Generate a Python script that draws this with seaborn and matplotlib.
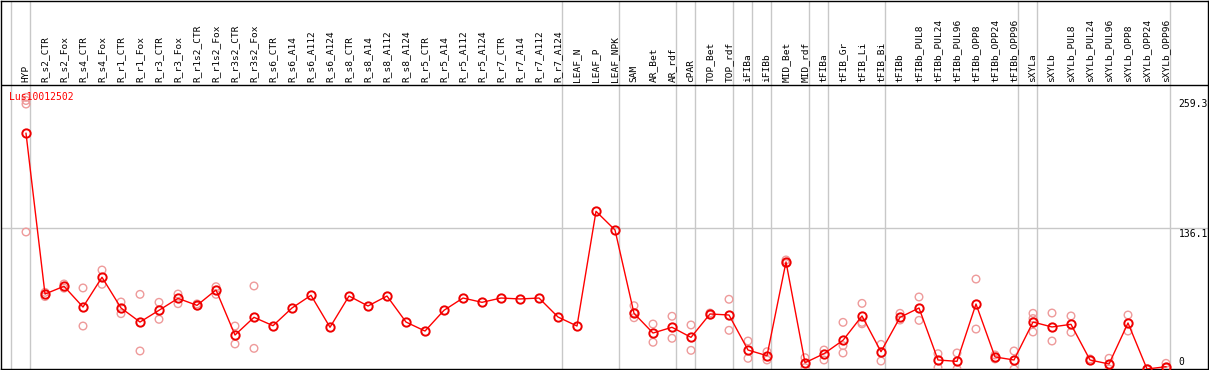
import numpy as np
import pandas as pd
import matplotlib
matplotlib.use("Agg")
import matplotlib.pyplot as plt
import seaborn as sns

# ---------------- data ----------------
categories = [
    "HYP", "R_s2_CTR", "R_s2_Fox", "R_s4_CTR", "R_s4_Fox", "R_r1_CTR", "R_r1_Fox",
    "R_r3_CTR", "R_r3_Fox", "R_r1s2_CTR", "R_r1s2_Fox", "R_r3s2_CTR", "R_r3s2_Fox",
    "R_s6_CTR", "R_s6_A14", "R_s6_A112", "R_s6_A124", "R_s8_CTR", "R_s8_A14",
    "R_s8_A112", "R_s8_A124", "R_r5_CTR", "R_r5_A14", "R_r5_A112", "R_r5_A124",
    "R_r7_CTR", "R_r7_A14", "R_r7_A112", "R_r7_A124", "LEAF_N", "LEAF_P", "LEAF_NPK",
    "SAM", "AR_Bet", "AR_rdf", "cPAR", "TOP_Bet", "TOP_rdf", "iFIBa", "iFIBb",
    "MID_Bet", "MID_rdf", "tFIBa", "tFIB_Gr", "tFIB_Li", "tFIB_Bi", "tFIBb",
    "tFIBb_PUL8", "tFIBb_PUL24", "tFIBb_PUL96", "tFIBb_OPP8", "tFIBb_OPP24",
    "tFIBb_OPP96", "sXYLa", "sXYLb", "sXYLb_PUL8", "sXYLb_PUL24", "sXYLb_PUL96",
    "sXYLb_OPP8", "sXYLb_OPP24", "sXYLb_OPP96",
]

mean_values = [
    226.7, 73.4, 80.8, 61.0, 89.4, 60.1, 46.7, 57.9, 69.3, 62.6, 77.3, 34.3, 51.2,
    43.2, 60.1, 72.2, 41.7, 71.5, 62.0, 71.5, 46.7, 38.1, 57.9, 69.6, 65.5,
    69.6, 68.7, 69.6, 51.5, 42.9, 152.3, 134.5,
    55.0, 36.2, 41.7, 32.1, 54.4, 53.4, 20.0, 14.6, 104.0, 7.9,
    16.5, 29.3, 52.5, 18.4, 51.2, 60.1, 10.5, 9.2, 63.9, 13.4, 10.5,
    46.7, 42.0, 44.5, 10.5, 6.7, 45.8, 1.9, 4.1,
]

replicate_values = [
    [261.0, 258.0, 254.6, 132.6], [75.0, 71.0], [83.0, 79.0], [79.2, 42.9],
    [96.3, 82.7], [65.8, 54.7], [73.1, 19.1], [65.5, 49.3], [73.4, 64.2],
    [64.0, 62.0], [80.4, 73.1], [42.9, 25.8], [81.1, 21.6],
    [], [], [], [], [], [], [], [], [], [], [], [], [], [], [], [], [], [], [],
    [62.3, 50.8, 55.5], [44.8, 27.4], [52.2, 31.2], [43.9, 19.7], [55.3, 53.4],
    [68.4, 38.8], [28.6, 12.1], [18.4, 10.5], [105.9, 102.5], [12.7, 3.2],
    [20.0, 10.5], [46.4, 24.2, 17.2], [64.5, 46.4, 45.0], [25.4, 9.5],
    [55.0, 48.6], [70.6, 48.3], [16.5, 3.2], [17.2, 1.9], [87.7, 40.0],
    [15.3, 11.5], [19.1, 1.9],
    [55.0, 37.2, 50.0], [55.3, 28.6], [52.5, 36.9], [11.5, 10.0], [12.1, 1.9],
    [53.4, 38.1], [2.0, 1.5], [7.3, 3.0],
]

group_ends = [-1, 0, 28, 31, 34, 35, 37, 38, 39, 41, 42, 45, 52, 53, 60]
ytick_values = [259.3, 136.1, 0]
ytick_labels = ["259.3", "136.1", "0"]
gene_label = "Lus10012502"

# ---------------- build frames ----------------
pos = np.arange(len(categories))
df_mean = pd.DataFrame({"pos": pos, "value": mean_values, "cat": categories})
rows = []
for i, reps in enumerate(replicate_values):
    for r in reps:
        rows.append({"pos": i, "value": r})
df_rep = pd.DataFrame(rows)

# ---------------- figure ----------------
W, H = 1209, 370
fig = plt.figure(figsize=(W / 100, H / 100), dpi=100)
ax = fig.add_axes([1 / W, 1 / H, 1207 / W, 368.5 / H])

# pixel -> data mapping (linear)
px0, pscale = 371.0, 1.0485          # pixel row of value 0, pixels per unit
ax.set_ylim((px0 - 369.0) / pscale, (px0 - 0.5) / pscale)
ax.set_xlim((1 - 26) / 19, (1208 - 26) / 19)

mono = "DejaVu Sans Mono"
grey = "#c8c8c8"

# separators and reference line
for g in group_ends:
    ax.axvline(g + 0.23, color=grey, lw=1, zorder=1)
ax.axhline(136.1, color=grey, lw=1, zorder=1)

# header divider
header_v = (px0 - 85) / pscale
ax.axhline(header_v, color="black", lw=1, zorder=3)

# replicate points
sns.scatterplot(data=df_rep, x="pos", y="value", ax=ax, marker="o",
                facecolors="none", edgecolor="#ee9a9a", linewidth=1.0,
                s=30, zorder=4, legend=False)

# mean line
sns.lineplot(data=df_mean, x="pos", y="value", ax=ax, color="#ff0000",
             lw=1, marker="o", markersize=6, markerfacecolor="none",
             markeredgecolor="#ee0000", markeredgewidth=1.4, zorder=5,
             legend=False, sort=False, estimator=None)

# category labels in header
label_v = (px0 - 82) / pscale
for i, c in enumerate(categories):
    ax.text(i, label_v, c, rotation=90, ha="center", va="bottom",
            fontsize=6.8, family=mono, color="black", zorder=6)

# right-hand value labels
for v, t in zip(ytick_values, ytick_labels):
    yv = max(v - 5, 9)
    ax.text((1178.7 - 26) / 19, yv, t, ha="left", va="center",
            fontsize=7, family=mono, color="black", zorder=6)

# gene label
ax.text((9.3 - 26) / 19, (px0 - 97) / pscale, gene_label, ha="left",
        va="center", fontsize=7, family=mono, color="#ff0000", zorder=6)

ax.set_xticks([])
ax.set_yticks([])
ax.set_xlabel("")
ax.set_ylabel("")
for s in ax.spines.values():
    s.set_color("black")
    s.set_linewidth(1)

fig.savefig("out.png", dpi=100)
